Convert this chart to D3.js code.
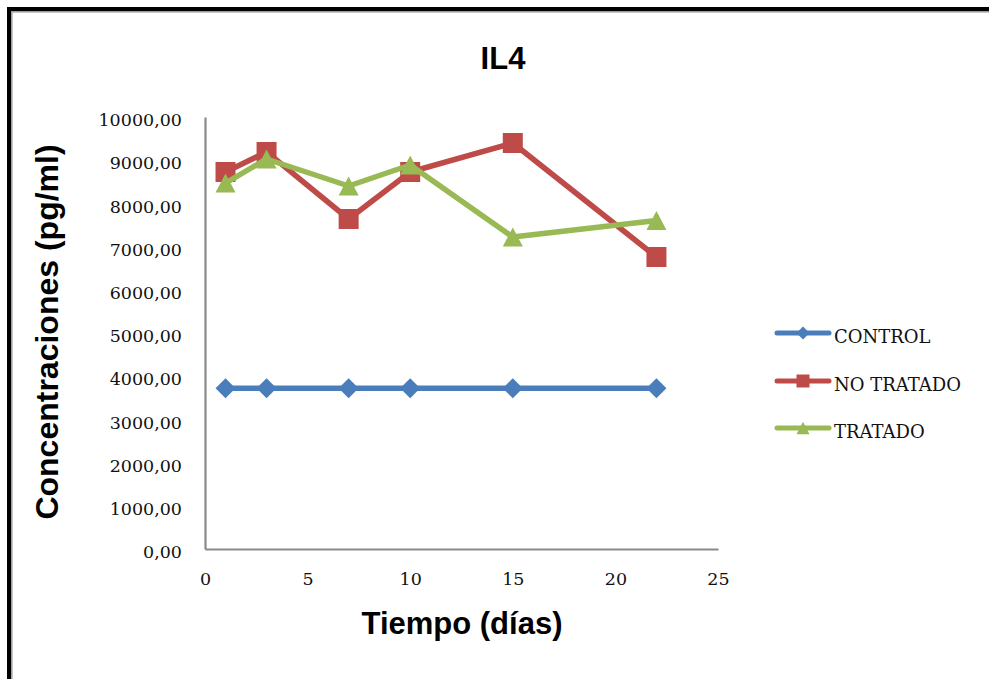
<!DOCTYPE html>
<html>
<head>
<meta charset="utf-8">
<script src="https://cdn.jsdelivr.net/npm/d3@7"></script>
<style>
  html, body { margin: 0; padding: 0; background: #ffffff; }
  svg { display: block; }
</style>
</head>
<body>
<svg id="chart" width="989" height="679"></svg>
<script>
// IL4 concentration over time for the three groups
const days = [1, 3, 7, 10, 15, 22];
const control = [3720, 3720, 3720, 3720, 3720, 3720];
const noTratado = [8727, 9190, 7639, 8727, 9398, 6759];
const tratado = [8472, 9028, 8403, 8889, 7222, 7604];
const seriesNames = ["CONTROL", "NO TRATADO", "TRATADO"];
const xTicks = [0, 5, 10, 15, 20, 25];
const yTicks = [0, 1000, 2000, 3000, 4000, 5000, 6000, 7000, 8000, 9000, 10000];

const colors = ["#4a7ebb", "#be4b48", "#98b954"];
const shapes = ["diamond", "square", "triangle"];
const seriesValues = [control, noTratado, tratado];

const svg = d3.select("#chart");

// frame around the chart
svg.append("rect").attr("x", 9).attr("y", 9).attr("width", 1000).attr("height", 700)
  .attr("fill", "none").attr("stroke", "#000").attr("stroke-width", 4);
svg.append("rect").attr("x", 11.8).attr("y", 11.8).attr("width", 1000).attr("height", 700)
  .attr("fill", "none").attr("stroke", "#a0a0a0").attr("stroke-width", 1.6);

const x = d3.scaleLinear().domain([0, 25]).range([205, 718]);
const y = d3.scaleLinear().domain([0, 10000]).range([549, 117]);

const fmt = v => d3.format(".2f")(v).replace(".", ",");
const tickFont = "'DejaVu Serif', serif";

// axes
const yAxis = svg.append("g").attr("transform", `translate(${x(0)},0)`)
  .call(d3.axisLeft(y).tickValues(yTicks).tickSize(0).tickPadding(23).tickFormat(fmt));
const xAxis = svg.append("g").attr("transform", `translate(0,${y(0)})`)
  .call(d3.axisBottom(x).tickValues(xTicks).tickSize(0).tickPadding(24).tickFormat(d3.format("d")));

[yAxis, xAxis].forEach(g => {
  g.select(".domain").attr("stroke", "#898989").attr("stroke-width", 2.2);
  g.selectAll("text").attr("font-family", tickFont).attr("font-size", "17.5px").attr("fill", "#111");
});
yAxis.selectAll("text").attr("dy", "0.32em").attr("transform", "translate(0,3)");
xAxis.selectAll("text").attr("dy", "0.71em").attr("transform", "translate(0,0)");

// marker shapes
function markerPath(shape, r) {
  if (shape === "diamond") return `M0,${-r}L${r},0L0,${r}L${-r},0Z`;
  if (shape === "square") return `M${-r},${-r}H${r}V${r}H${-r}Z`;
  const h = r * 0.95;
  return `M0,${-h}L${r},${h}L${-r},${h}Z`;
}

const line = d3.line().x(d => x(d[0])).y(d => y(d[1]));

seriesValues.forEach((vals, i) => {
  const pts = days.map((d, j) => [d, vals[j]]);
  const g = svg.append("g");
  g.append("path").datum(pts).attr("d", line)
    .attr("fill", "none").attr("stroke", colors[i]).attr("stroke-width", 5.5)
    .attr("stroke-linejoin", "round");
  g.selectAll("path.m").data(pts).join("path").attr("class", "m")
    .attr("transform", d => `translate(${x(d[0])},${y(d[1])})`)
    .attr("d", markerPath(shapes[i], 10))
    .attr("fill", colors[i]);
});

// legend
const legend = svg.append("g");
const legendY = [333, 381, 428];
seriesNames.forEach((name, i) => {
  const g = legend.append("g").attr("transform", `translate(0,${legendY[i]})`);
  g.append("line").attr("x1", 777).attr("x2", 829).attr("y1", 0).attr("y2", 0)
    .attr("stroke", colors[i]).attr("stroke-width", 5).attr("stroke-linecap", "round");
  g.append("path").attr("transform", "translate(803,0)")
    .attr("d", markerPath(shapes[i], 6.5)).attr("fill", colors[i]);
  g.append("text").attr("x", 834).attr("y", 10)
    .attr("font-family", tickFont).attr("font-size", "18px").attr("fill", "#111")
    .text(name);
});

// titles
const titleFont = "'Liberation Sans', Arial, sans-serif";
svg.append("text").attr("x", 503).attr("y", 69).attr("text-anchor", "middle")
  .attr("font-family", titleFont).attr("font-weight", "bold").attr("font-size", "31px")
  .text("IL4");
svg.append("text").attr("x", 462).attr("y", 634).attr("text-anchor", "middle")
  .attr("font-family", titleFont).attr("font-weight", "bold").attr("font-size", "31px")
  .text("Tiempo (días)");
svg.append("text").attr("transform", "translate(58,332) rotate(-90)").attr("text-anchor", "middle")
  .attr("font-family", titleFont).attr("font-weight", "bold").attr("font-size", "32px")
  .text("Concentraciones (pg/ml)");
</script>
</body>
</html>
